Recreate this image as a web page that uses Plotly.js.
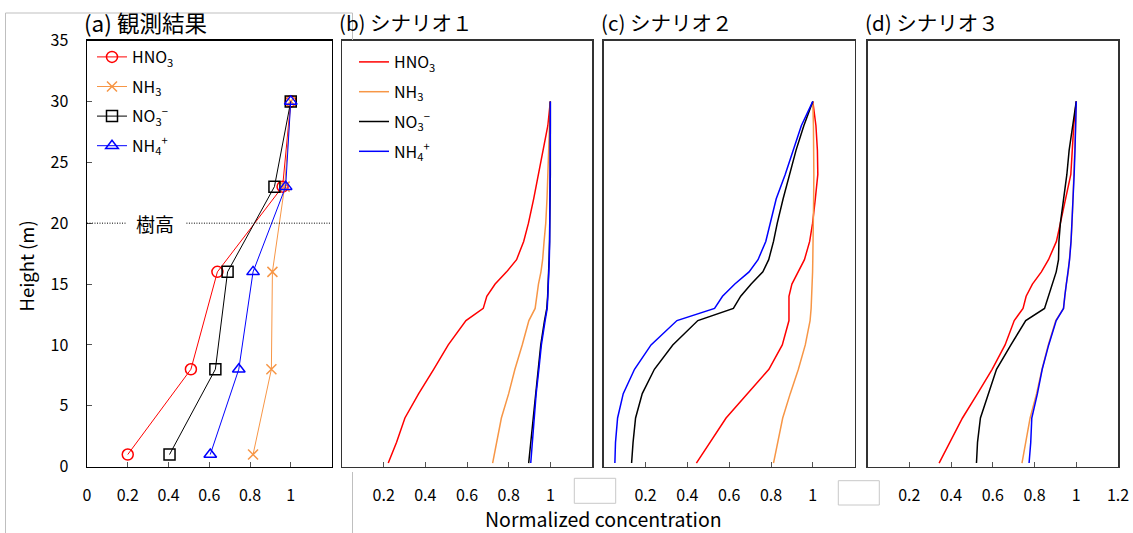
<!DOCTYPE html>
<html>
<head>
<meta charset="utf-8">
<script src="https://cdn.plot.ly/plotly-3.0.1.min.js"></script>
<style>
  html, body { margin: 0; padding: 0; background: #fff; }
  #chart { width: 1133px; height: 533px; }
</style>
</head>
<body>
<div id="chart"></div>
<script>
// ---------------- DATA ----------------
const panelTitles = ["(a) 観測結果", "(b) シナリオ１", "(c) シナリオ２", "(d) シナリオ３"];
const seriesNames = ["HNO<sub>3</sub>", "NH<sub>3</sub>", "NO<sub>3</sub><sup>−</sup>", "NH<sub>4</sub><sup>+</sup>"];
const seriesColors = ["#FF0000", "#F79646", "#000000", "#0000FF"];
const obsSymbols = ["circle-open", "x-thin-open", "square-open", "triangle-up-open"];
const treeHeight = 20;
const treeLabel = "樹高";
const xTitle = "Normalized concentration";
const yTitle = "Height (m)";

// (a) observations
const obsHeight = [1, 8, 16, 23, 30];
const obsHNO3 = [0.20, 0.51, 0.64, 0.96, 1.00];
const obsNH3  = [0.815, 0.905, 0.91, 0.97, 1.00];
const obsNO3  = [0.405, 0.63, 0.69, 0.92, 1.00];
const obsNH4  = [0.605, 0.745, 0.815, 0.975, 1.00];

// model heights shared by scenarios
const modelHeight = [0.3, 2, 4, 6, 8, 10, 12, 13, 14, 15, 16, 17, 18.5, 20, 22, 24, 26, 28, 30];

// (b) scenario 1
const s1HNO3 = [0.222, 0.262, 0.302, 0.368, 0.44, 0.51, 0.595, 0.678, 0.695, 0.735, 0.79, 0.838, 0.872, 0.895, 0.92, 0.943, 0.965, 0.988, 1.0];
const s1NH3  = [0.723, 0.742, 0.765, 0.80, 0.83, 0.865, 0.897, 0.927, 0.935, 0.943, 0.955, 0.963, 0.97, 0.978, 0.984, 0.988, 0.993, 0.997, 1.0];
const s1NO3  = [0.896, 0.905, 0.918, 0.93, 0.942, 0.954, 0.972, 0.983, 0.987, 0.99, 0.992, 0.994, 0.996, 0.998, 0.999, 1.0, 1.0, 1.0, 1.0];
const s1NH4  = [0.906, 0.913, 0.922, 0.932, 0.945, 0.957, 0.975, 0.985, 0.988, 0.991, 0.993, 0.995, 0.997, 0.998, 0.999, 1.0, 1.0, 1.0, 1.0];

// (c) scenario 2
const s2HNO3 = [0.443, 0.508, 0.585, 0.687, 0.79, 0.854, 0.886, 0.886, 0.886, 0.90, 0.93, 0.96, 0.985, 0.999, 1.012, 1.024, 1.022, 1.015, 1.0];
const s2NH3  = [0.812, 0.832, 0.856, 0.892, 0.931, 0.964, 0.987, 0.992, 0.995, 0.997, 0.999, 1.0, 1.002, 1.003, 1.004, 1.005, 1.005, 1.003, 1.0];
const s2NO3  = [0.133, 0.14, 0.152, 0.184, 0.242, 0.33, 0.45, 0.62, 0.655, 0.705, 0.761, 0.789, 0.812, 0.83, 0.858, 0.89, 0.92, 0.957, 1.0];
const s2NH4  = [0.053, 0.056, 0.066, 0.093, 0.147, 0.226, 0.35, 0.53, 0.568, 0.627, 0.695, 0.738, 0.775, 0.795, 0.825, 0.868, 0.905, 0.945, 1.0];

// (d) scenario 3
const s3HNO3 = [0.343, 0.394, 0.455, 0.527, 0.597, 0.659, 0.703, 0.745, 0.76, 0.79, 0.833, 0.867, 0.905, 0.924, 0.95, 0.974, 0.981, 0.988, 1.0];
const s3NH3  = [0.740, 0.757, 0.779, 0.81, 0.836, 0.866, 0.902, 0.939, 0.945, 0.952, 0.962, 0.968, 0.975, 0.98, 0.985, 0.99, 0.994, 0.997, 1.0];
const s3NO3  = [0.522, 0.527, 0.541, 0.578, 0.618, 0.687, 0.758, 0.848, 0.867, 0.885, 0.904, 0.915, 0.917, 0.924, 0.94, 0.955, 0.966, 0.982, 1.0];
const s3NH4  = [0.774, 0.782, 0.787, 0.814, 0.837, 0.868, 0.904, 0.939, 0.945, 0.952, 0.962, 0.968, 0.975, 0.98, 0.985, 0.99, 0.994, 0.997, 1.0];

const xTickVals = [[0, 0.2, 0.4, 0.6, 0.8, 1], [0.2, 0.4, 0.6, 0.8, 1], [0.2, 0.4, 0.6, 0.8, 1], [0.2, 0.4, 0.6, 0.8, 1, 1.2]];
const xTickText = [["0", "0.2", "0.4", "0.6", "0.8", "1"], ["0.2", "0.4", "0.6", "0.8", "1"], ["0.2", "0.4", "0.6", "0.8", "1"], ["0.2", "0.4", "0.6", "0.8", "1", "1.2"]];
const yTickVals = [0, 5, 10, 15, 20, 25, 30, 35];

// ---------------- LAYOUT HELPERS ----------------
const W = 1133, Hh = 533;
const px = v => v / W;
const py = v => 1 - v / Hh;
const FONT = "'Noto Sans CJK JP', 'Noto Sans', sans-serif";

const xDomains = [[px(87), px(331.5)], [px(342), px(592)], [px(603.8), px(854.6)], [px(867.5), px(1118)]];
const yDomain = [py(466.7), py(40.5)];
const titleSizes = [22.5, 20.5, 20.5, 20.5];

const obsSeries = [obsHNO3, obsNH3, obsNO3, obsNH4];
const modelSeries = [
  [s1HNO3, s1NH3, s1NO3, s1NH4],
  [s2HNO3, s2NH3, s2NO3, s2NH4],
  [s3HNO3, s3NH3, s3NO3, s3NH4]
];

const traces = [];
obsSeries.forEach((vals, i) => {
  traces.push({
    type: "scatter", mode: "lines+markers",
    x: vals, y: obsHeight, xaxis: "x", yaxis: "y",
    name: seriesNames[i], legend: "legend", legendgroup: "a" + i,
    line: { color: seriesColors[i], width: 1 },
    marker: { symbol: obsSymbols[i], size: i === 1 ? 10 : 11, color: seriesColors[i], line: { color: seriesColors[i], width: 1.5 } },
    hoverinfo: "skip"
  });
});
modelSeries.forEach((panel, p) => {
  const ax = p + 2;
  panel.forEach((vals, i) => {
    traces.push({
      type: "scatter", mode: "lines",
      x: vals, y: modelHeight, xaxis: "x" + ax, yaxis: "y" + ax,
      name: seriesNames[i], legend: "legend2", legendgroup: "b" + i,
      showlegend: p === 0,
      line: { color: seriesColors[i], width: 1.5 },
      hoverinfo: "skip"
    });
  });
});

const layout = {
  width: W, height: Hh,
  margin: { l: 0, r: 0, t: 0, b: 0 },
  paper_bgcolor: "#fff", plot_bgcolor: "#fff",
  font: { family: FONT, size: 16, color: "#000" },
  showlegend: true,
  legend: {
    x: px(92), y: py(40), xanchor: "left", yanchor: "top",
    bgcolor: "rgba(0,0,0,0)", borderwidth: 0,
    font: { family: FONT, size: 16, color: "#000" },
    traceorder: "grouped", tracegroupgap: 5.8, itemwidth: 30
  },
  legend2: {
    x: px(354), y: py(45), xanchor: "left", yanchor: "top",
    bgcolor: "rgba(0,0,0,0)", borderwidth: 0,
    font: { family: FONT, size: 16, color: "#000" },
    traceorder: "grouped", tracegroupgap: 6, itemwidth: 30
  },
  annotations: [],
  shapes: []
};

for (let k = 0; k < 4; k++) {
  const sfx = k === 0 ? "" : String(k + 1);
  const frameColor = k === 0 ? "#000" : "#333";
  layout["xaxis" + sfx] = {
    domain: xDomains[k], range: [0, 1.2], anchor: "y" + sfx,
    showgrid: false, zeroline: false,
    showline: true, mirror: true, linecolor: frameColor, linewidth: 1.5,
    ticks: "inside", ticklen: 5, tickcolor: "#555", tickwidth: 1,
    tickmode: "array", tickvals: xTickVals[k], ticktext: xTickText[k],
    ticklabelstandoff: 14,
    tickfont: { family: FONT, size: 16, color: "#000" }
  };
  layout["yaxis" + sfx] = {
    domain: yDomain, range: [0, 35], anchor: "x" + sfx,
    showgrid: false, zeroline: false,
    showline: true, mirror: true, linecolor: frameColor, linewidth: 1.5,
    ticks: k === 0 ? "inside" : "", ticklen: 5, tickcolor: "#555", tickwidth: 1,
    showticklabels: k === 0,
    tickmode: "array", tickvals: yTickVals,
    ticklabelstandoff: 14,
    tickfont: { family: FONT, size: 16, color: "#000" }
  };
  layout.annotations.push({
    xref: "paper", yref: "paper", x: xDomains[k][0] - px(5), y: py(22),
    xanchor: "left", yanchor: "middle", showarrow: false,
    text: panelTitles[k], font: { family: FONT, size: titleSizes[k], color: "#000" }
  });
}

// tree-height marker in panel (a)
layout.shapes.push(
  { type: "line", xref: "x", yref: "y", x0: 0, x1: 0.19, y0: treeHeight, y1: treeHeight, line: { color: "#000", width: 1, dash: "1px,1.5px" } },
  { type: "line", xref: "x", yref: "y", x0: 0.488, x1: 1.2, y0: treeHeight, y1: treeHeight, line: { color: "#000", width: 1, dash: "1px,1.5px" } }
);
layout.annotations.push({
  xref: "x", yref: "y", x: 0.333, y: treeHeight, xanchor: "center", yanchor: "middle",
  showarrow: false, text: treeLabel, font: { family: FONT, size: 19, color: "#000" }
});

// axis titles
layout.annotations.push({
  xref: "paper", yref: "paper", x: px(603), y: py(518), xanchor: "center", yanchor: "middle",
  showarrow: false, text: xTitle, font: { family: FONT, size: 19.5, color: "#000" }
});
layout.annotations.push({
  xref: "paper", yref: "paper", x: px(25), y: py(266.5), xanchor: "center", yanchor: "middle",
  showarrow: false, textangle: -90, text: yTitle, font: { family: FONT, size: 18.5, color: "#000" }
});

// decorative frame and empty boxes (paper)
const gray = "#BFBFBF";
layout.shapes.push(
  { type: "line", xref: "paper", yref: "paper", x0: px(5.5), x1: px(352.5), y0: py(13), y1: py(13), line: { color: gray, width: 1 } },
  { type: "line", xref: "paper", yref: "paper", x0: px(5.5), x1: px(5.5), y0: py(13), y1: py(533), line: { color: gray, width: 1 } },
  { type: "line", xref: "paper", yref: "paper", x0: px(352.5), x1: px(352.5), y0: py(13), y1: py(40), line: { color: gray, width: 1 } },
  { type: "line", xref: "paper", yref: "paper", x0: px(352.5), x1: px(352.5), y0: py(472), y1: py(533), line: { color: gray, width: 1 } },
  { type: "rect", xref: "paper", yref: "paper", x0: px(574.3), x1: px(615.7), y0: py(503.3), y1: py(478.3), fillcolor: "#fff", line: { color: "#C8C8C8", width: 1 } },
  { type: "rect", xref: "paper", yref: "paper", x0: px(838.3), x1: px(879.3), y0: py(505), y1: py(480.7), fillcolor: "#fff", line: { color: "#C8C8C8", width: 1 } }
);

Plotly.newPlot("chart", traces, layout, { staticPlot: true, displayModeBar: false });
</script>
</body>
</html>
